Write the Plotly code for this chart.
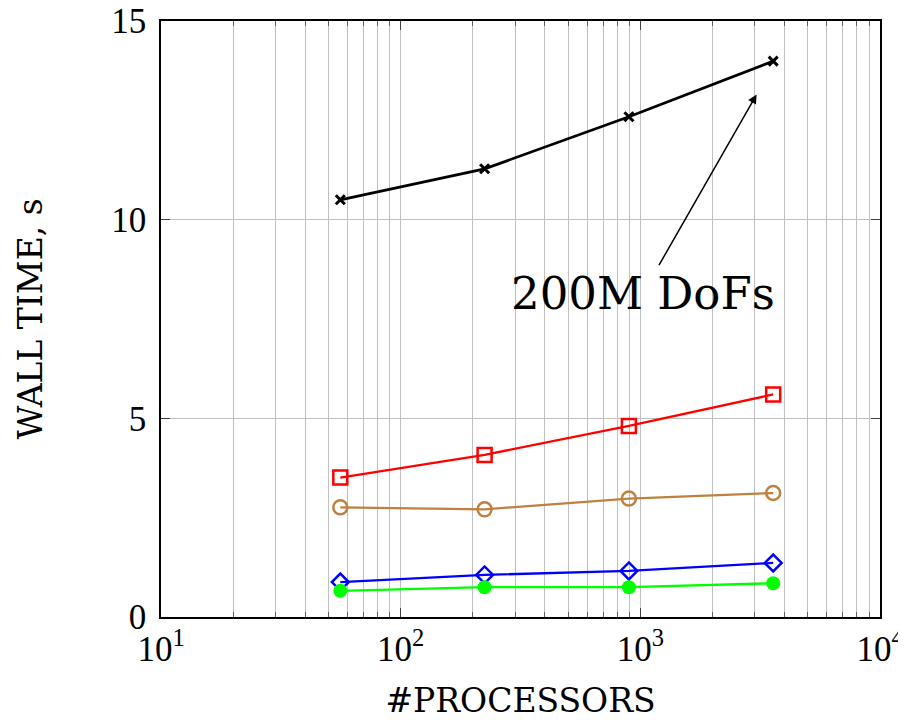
import plotly.graph_objects as go
import math

procs = [56, 224, 896, 3584]
t_200m = [10.5, 11.28, 12.59, 13.99]
t_red = [3.51, 4.08, 4.81, 5.60]
t_brown = [2.76, 2.71, 2.98, 3.12]
t_blue = [0.88, 1.06, 1.16, 1.36]
t_green = [0.66, 0.75, 0.75, 0.85]

xtick_major = [10, 100, 1000, 10000]
xtick_major_text = ["10<sup>1</sup>", "10<sup>2</sup>", "10<sup>3</sup>", "10<sup>4</sup>"]
xtick_minor_mult = [2, 3, 4, 5, 6, 7, 8, 9]
ytick_vals = [0, 5, 10, 15]

FONT = "DejaVu Serif"
TICK_FONT = "Liberation Serif"
TITLE_SIZE = 33
TICK_SIZE = 35

# all x tick positions (majors + minors); only majors get a label
xt_vals, xt_text = [], []
for i, m in enumerate(xtick_major):
    xt_vals.append(m)
    xt_text.append(xtick_major_text[i])
    if i < len(xtick_major) - 1:
        for k in xtick_minor_mult:
            xt_vals.append(m * k)
            xt_text.append("")

series = [
    (t_200m, "black", dict(symbol="x-thin", size=9, line=dict(width=3, color="black")), 2.8),
    (t_red, "#ff0000", dict(symbol="square-open", size=14, line=dict(width=2.5, color="#ff0000")), 2.3),
    (t_brown, "#bf8040", dict(symbol="circle-open", size=14, line=dict(width=2.5, color="#bf8040")), 2.3),
    (t_blue, "#0000ff", dict(symbol="diamond-open", size=13, line=dict(width=2.5, color="#0000ff")), 2.3),
    (t_green, "#00ff00", dict(symbol="circle", size=14, color="#00ff00"), 2.3),
]

fig = go.Figure()
for vals, col, mk, lw in series:
    fig.add_trace(go.Scatter(x=procs, y=vals, mode="lines+markers",
                             line=dict(color=col, width=lw), marker=mk,
                             showlegend=False))
# invisible trace to activate overlay axis carrying the longer major ticks
fig.add_trace(go.Scatter(x=[procs[0]], y=[t_green[0]], xaxis="x2", mode="markers",
                         marker=dict(opacity=0), showlegend=False, hoverinfo="skip"))

fig.add_annotation(x=math.log10(3055), y=13.15, xref="x", yref="y",
                   ax=math.log10(1026), ay=8.15, axref="x", ayref="y",
                   text="200M DoFs", showarrow=True, arrowhead=2, arrowsize=1.2,
                   arrowwidth=1.5, arrowcolor="black",
                   font=dict(family=FONT, size=45, color="black"))

fig.update_layout(
    xaxis=dict(type="log", range=[1, 4], tickvals=xt_vals, ticktext=xt_text,
               showgrid=True, gridcolor="#c0c0c0", gridwidth=1,
               ticks="inside", ticklen=5, tickcolor="#606060", mirror="ticks",
               showline=True, linecolor="black", linewidth=1.5,
               tickfont=dict(family=TICK_FONT, size=TICK_SIZE, color="black"),
               ticklabeloverflow="allow",
               title=dict(text="#PROCESSORS", font=dict(family=FONT, size=TITLE_SIZE, color="black"),
                          standoff=36),
               zeroline=False, automargin=False),
    xaxis2=dict(type="log", range=[1, 4], overlaying="x", tickvals=xtick_major,
                ticks="inside", ticklen=9, tickcolor="#404040", mirror="ticks",
                showticklabels=False, showgrid=False, zeroline=False, showline=False,
                automargin=False, side="bottom"),
    yaxis=dict(range=[0, 15], tickvals=ytick_vals,
               showgrid=True, gridcolor="#c0c0c0", gridwidth=1,
               ticks="inside", ticklen=9, tickcolor="#404040", mirror="ticks",
               showline=True, linecolor="black", linewidth=1.5,
               tickfont=dict(family=TICK_FONT, size=TICK_SIZE, color="black"),
               ticklabeloverflow="allow", ticklabelstandoff=6,
               title=dict(text="WALL TIME, s", font=dict(family=FONT, size=TITLE_SIZE, color="black"),
                          standoff=59),
               zeroline=False, automargin=False),
    width=898, height=712, plot_bgcolor="white", paper_bgcolor="white",
    margin=dict(l=153, r=26, t=13, b=103),
)

fig.write_html("out.html")
